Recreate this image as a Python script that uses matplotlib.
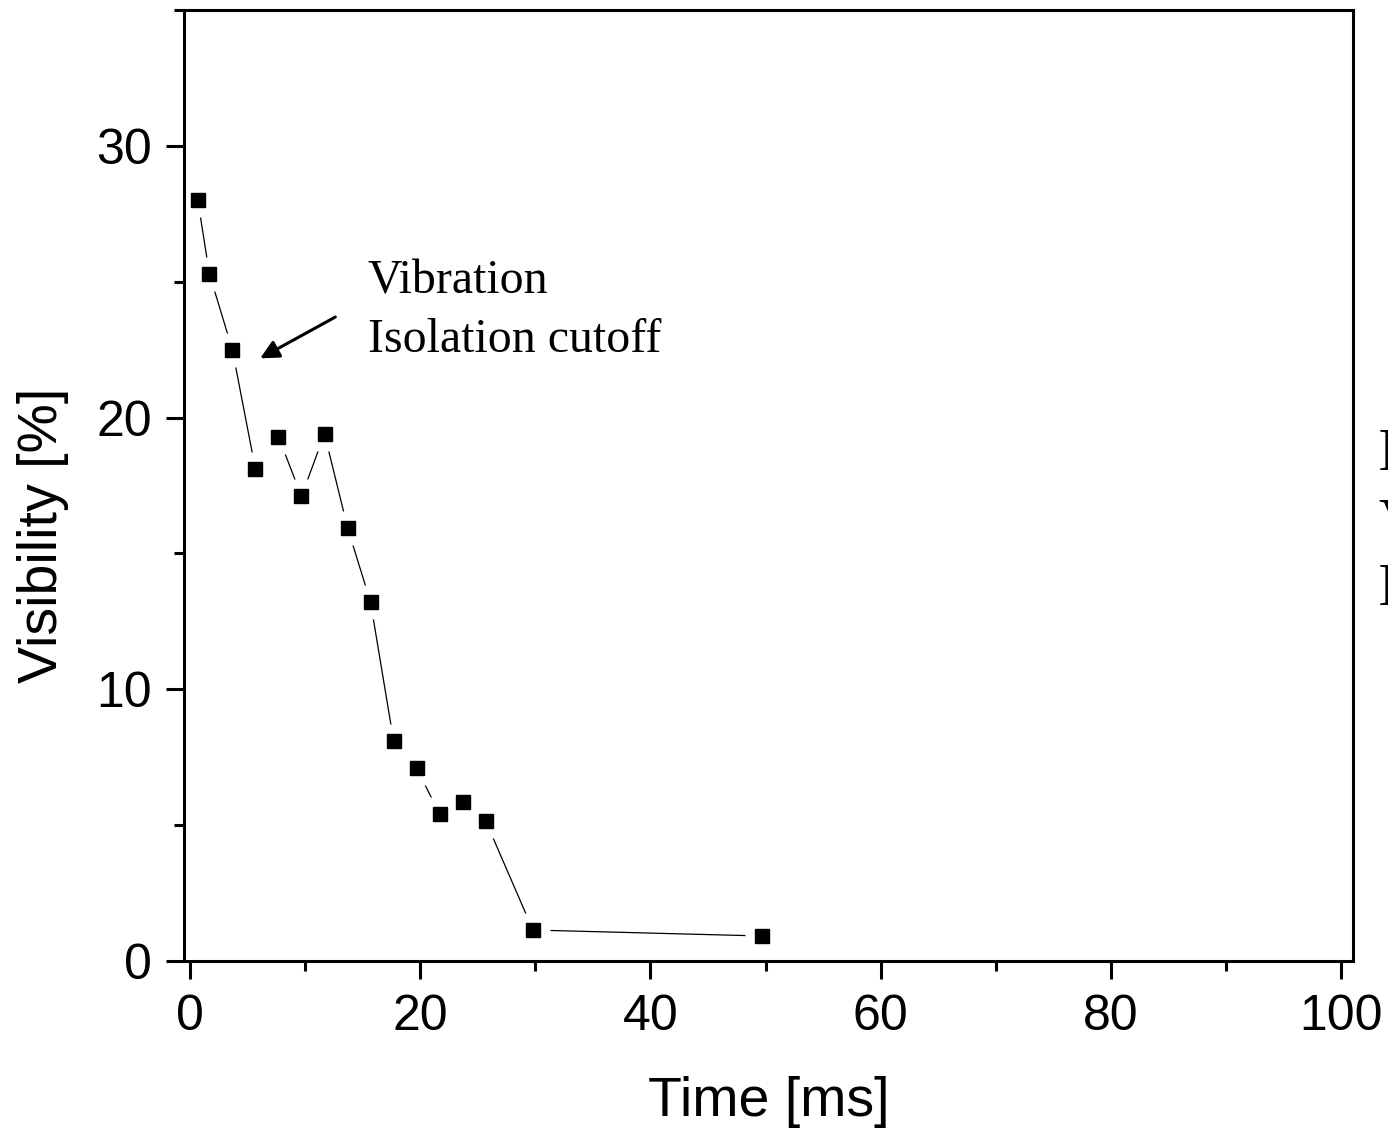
"""
Visibility vs time — 振動絶縁カットオフの再現プロット
"""

import matplotlib
matplotlib.use('Agg')
import matplotlib.pyplot as plt
from matplotlib.ticker import MultipleLocator

# データ
time_ms = [0.7, 1.7, 3.7, 5.7, 7.7, 9.7, 11.7, 13.7, 15.7, 17.7,
           19.7, 21.7, 23.7, 25.7, 29.8, 49.7]
visibility = [28.0, 25.3, 22.5, 18.1, 19.3, 17.1, 19.4, 15.95, 13.2, 8.1,
              7.1, 5.4, 5.85, 5.15, 1.14, 0.92]

X_TICKS = [0, 20, 40, 60, 80, 100]
Y_TICKS = [0, 10, 20, 30]

SANS = 'Liberation Sans'
SERIF = 'Liberation Serif'

plt.rcParams['font.family'] = SANS

fig = plt.figure(figsize=(13.88, 11.35), dpi=100)
ax = fig.add_axes([184 / 1388, 1 - 961 / 1135, 1169 / 1388, 951 / 1135])

# 線 → 白い余白マーカー → 黒マーカー（Origin風の隙間）
ax.plot(time_ms, visibility, color='black', linewidth=0.9, zorder=1)
ax.plot(time_ms, visibility, linestyle='none', marker='s', markersize=25,
        markerfacecolor='white', markeredgecolor='none', zorder=2)
ax.plot(time_ms, visibility, linestyle='none', marker='s', markersize=9.5,
        markerfacecolor='black', markeredgecolor='black', zorder=4)

ax.set_xlim(-0.5, 101)
ax.set_ylim(0, 35)
ax.set_xticks(X_TICKS)
ax.set_yticks(Y_TICKS)
ax.xaxis.set_minor_locator(MultipleLocator(10))
ax.yaxis.set_minor_locator(MultipleLocator(5))

for side in ['left', 'right', 'top', 'bottom']:
    ax.spines[side].set_linewidth(2.2)
    ax.spines[side].set_zorder(3)

ax.tick_params(which='major', direction='out', length=13, width=2.2,
               labelsize=36, top=False, right=False)
ax.tick_params(axis='x', which='major', pad=11)
ax.tick_params(axis='y', which='major', pad=10)
ax.tick_params(which='minor', direction='out', length=7, width=2.2,
               top=False, right=False)

ax.set_xlabel('Time [ms]', fontsize=40, labelpad=26)
ax.set_ylabel('Visibility [%]', fontsize=40)
ax.yaxis.set_label_coords(-0.098, 0.448)

# 注釈
ax.annotate('', xy=(5.9, 22.13), xytext=(12.85, 23.75),
            arrowprops=dict(arrowstyle='-|>', color='black', lw=2.2,
                            mutation_scale=28))
ax.text(15.45, 24.55, 'Vibration', fontsize=34.5, family=SERIF,
        va='baseline')
ax.text(15.45, 22.4, 'Isolation cutoff', fontsize=34.5, family=SERIF,
        va='baseline')

# 右端で切れているテキスト（元図でも途中で切れている）
fig.text(1378 / 1388, 1 - 470 / 1135, 'In', fontsize=44, family=SERIF)
fig.text(1378 / 1388, 1 - 540 / 1135, 'Vibration', fontsize=44, family=SERIF)
fig.text(1378 / 1388, 1 - 605 / 1135, 'Isolation', fontsize=44, family=SERIF)

fig.savefig('out.png', dpi=100)
plt.close(fig)
